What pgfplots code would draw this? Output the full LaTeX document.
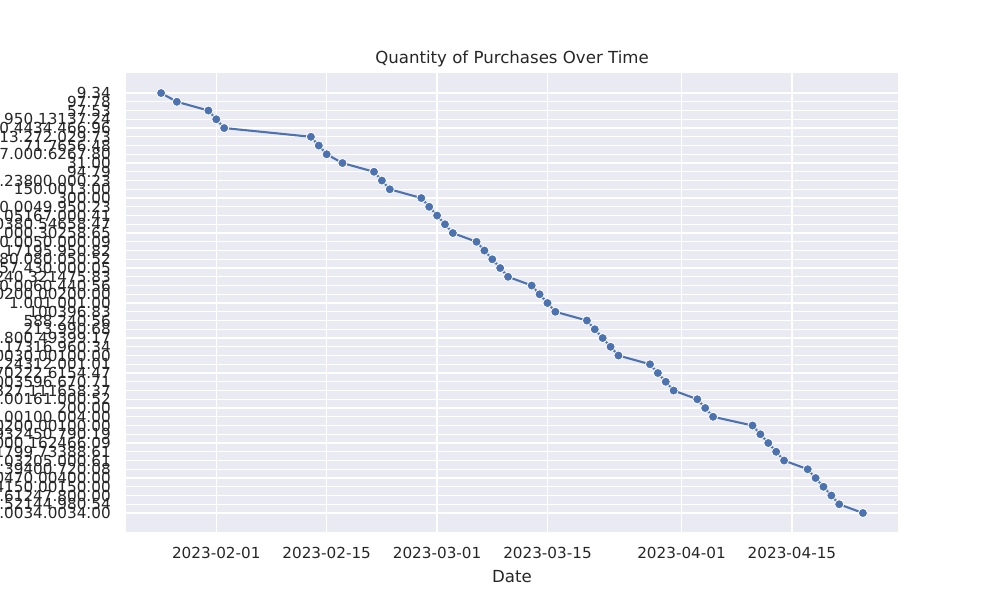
\documentclass[border=0pt]{standalone}
\usepackage{pgfplots}
\pgfplotsset{compat=1.18}
\usepackage{fontspec}
\setmainfont{DejaVu Sans}
\definecolor{sbbg}{RGB}{234,234,242}
\definecolor{sbblue}{RGB}{76,114,176}
\definecolor{sbtext}{RGB}{38,38,38}
\pgfplotstableread{
day idx
-7 0
-5 1
-1 2
0 3
1 4
12 5
13 6
14 7
16 8
20 9
21 10
22 11
26 12
27 13
28 14
29 15
30 16
33 17
34 18
35 19
36 20
37 21
40 22
41 23
42 24
43 25
47 26
48 27
49 28
50 29
51 30
55 31
56 32
57 33
58 34
61 35
62 36
63 37
68 38
69 39
70 40
71 41
72 42
75 43
76 44
77 45
78 46
79 47
82 48
}\datatable
\begin{document}
\begin{tikzpicture}
\begin{axis}[
  name=ax,
  scale only axis,
  width=7.72in, height=4.59in,
  xmin=-11.45, xmax=86.45,
  ymin=-2.29, ymax=50.17,
  y dir=reverse,
  axis background/.style={fill=sbbg},
  axis line style={draw=none},
  major tick length=0pt,
  grid=major,
  major grid style={white, line width=1pt},
  xtick={0,14,28,42,59,73},
  xticklabels={2023-02-01,2023-02-15,2023-03-01,2023-03-15,2023-04-01,2023-04-15},
  ytick={0,...,48},
  yticklabels={9.34,97.78,57.53,950.13137.24,0.4434.466.96,13.272.029.73,71.7656.48,7.000.6267.80,31.00,94.79,.23800.000.23,150.0013.00,300.00,0.0049.950.23,.05167.000.41,0380.54658.47,.000.30258.65,0.0050.000.09,17195.950.82,80.080.050.52,57.430.000.05,240.321475.83,0.0060.440.56,0200.00200.00,1.001.001.00,100396.83,588.240.56,213.990.68,.800.49399.17,.17316.960.34,0030.00100.00,.24312.001.01,70222.6154.47,003596.670.71,327.111658.37,.00161.000.52,200.00,.00100.004.00,0200.00100.00,932450.790.19,000.162466.09,1799.73388.61,.03205.000.61,.39400.720.08,0470.00400.00,4150.00150.00,.61247.800.00,.52144.980.54,.0034.0034.00},
  ticklabel style={font=\fontsize{11}{13}\selectfont, text=sbtext},
  xticklabel style={anchor=base, inner sep=0pt, yshift=-0.265in},
  yticklabel style={anchor=east, inner sep=0pt, xshift=-0.15in},
  title={Quantity of Purchases Over Time},
  every axis title shift=0pt,
  title style={at={(0.5,1)}, anchor=base, inner sep=0pt, yshift=0.10in, font=\fontsize{12}{14}\selectfont, text=sbtext},
  xlabel={Date},
  xlabel style={at={(0.5,0)}, anchor=base, inner sep=0pt, yshift=-0.50in, font=\fontsize{12}{14}\selectfont, text=sbtext},
]
\addplot[sbblue, line width=1.5pt, mark=*, mark size=3.3pt, mark options={fill=sbblue, draw=white, line width=0.6pt}] table[x=day, y=idx] {\datatable};
\end{axis}
\pgfresetboundingbox
\useasboundingbox ([shift={(-1.26in,-0.68in)}]ax.south west) rectangle ++(10in,6in);
\end{tikzpicture}
\end{document}
